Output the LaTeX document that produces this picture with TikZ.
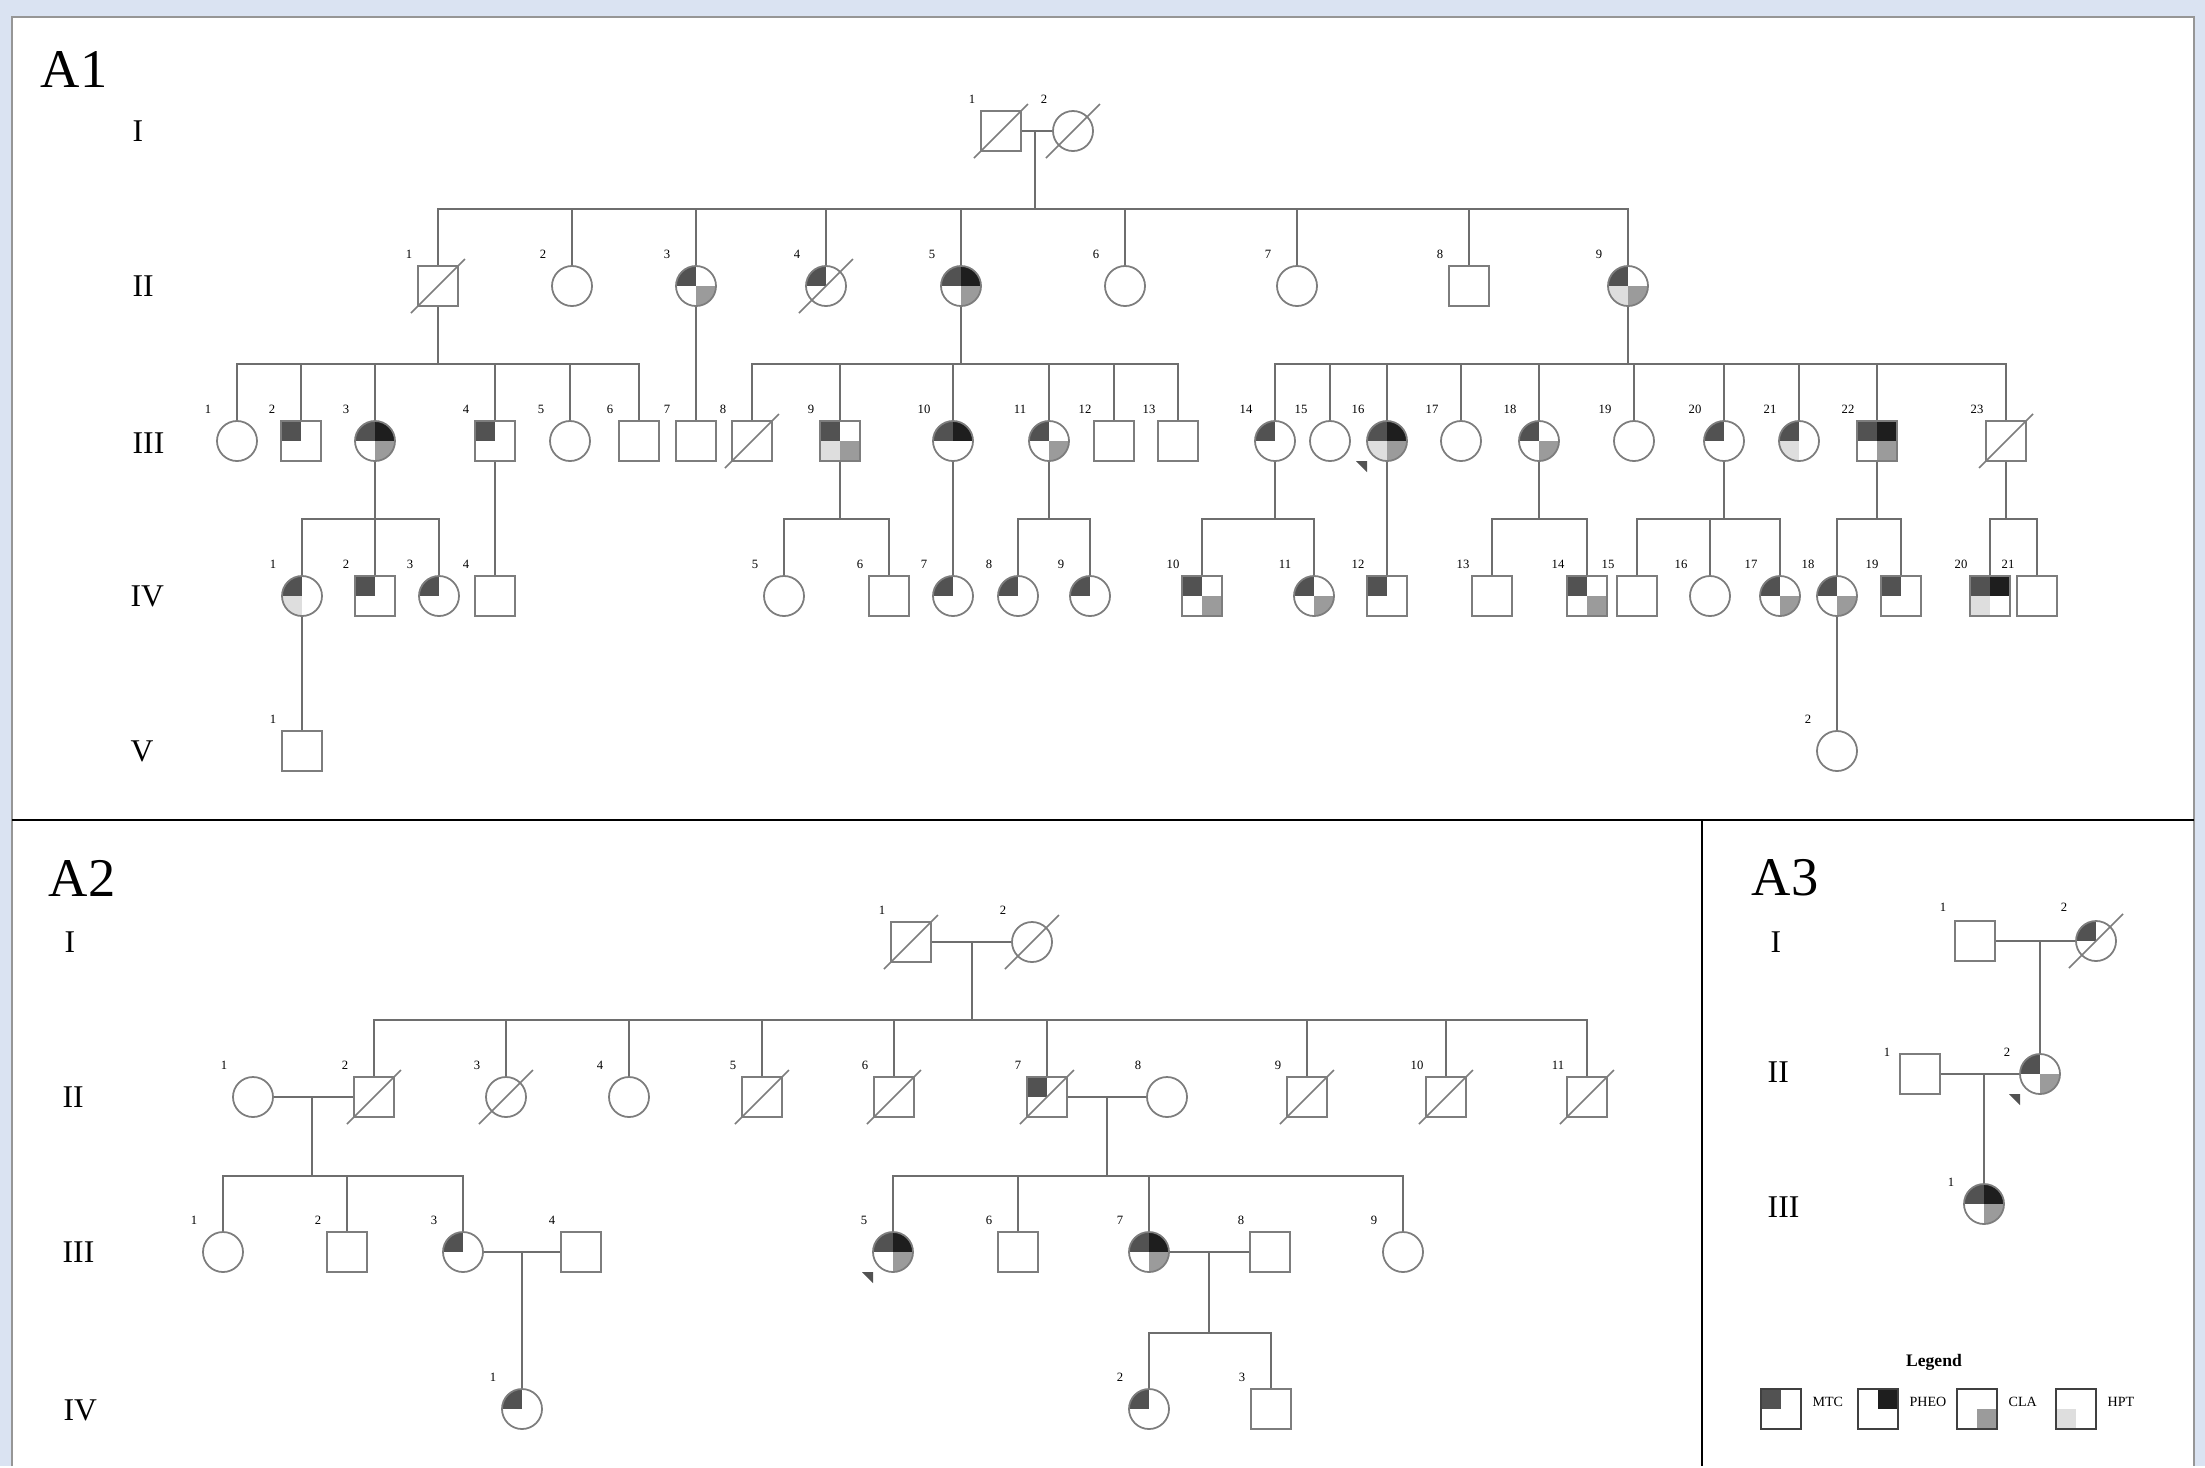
\documentclass[tikz,border=0pt]{standalone}
\usepackage{fontspec}
\setmainfont{Liberation Serif}
\usetikzlibrary{positioning,calc}
\definecolor{pagebg}{RGB}{218,227,242}
\definecolor{framegray}{RGB}{150,150,150}
\definecolor{pededge}{RGB}{125,125,125}
\definecolor{pedline}{RGB}{110,110,110}
\definecolor{cmtc}{RGB}{82,82,82}
\definecolor{cpheo}{RGB}{30,30,30}
\definecolor{ccla}{RGB}{155,155,155}
\definecolor{chpt}{RGB}{222,222,222}

% quadrant fills: top left, top right, bottom right, bottom left
\newcommand{\qfill}[4]{%
  \fill[#1] (path picture bounding box.center) rectangle (path picture bounding box.north west);
  \fill[#2] (path picture bounding box.center) rectangle (path picture bounding box.north east);
  \fill[#3] (path picture bounding box.center) rectangle (path picture bounding box.south east);
  \fill[#4] (path picture bounding box.center) rectangle (path picture bounding box.south west);}
\newcommand{\person}[4]{%
  \node[#1] (#2) at (#3) {};
  \node[idx] (#2n) at ([shift={(\numdx,\numdy)}]#2.center) {#4};}
\newcommand{\sibship}[3]{%
  \draw[kin] (#1) -- (#1 |- 0,#2);
  \foreach \k in {#3} {\draw[kin] (\k.north) |- (#1 |- 0,#2);}}
\newcommand{\proband}[1]{\fill[cmtc] ([shift={(-20,20)}]#1.center) -- ++(-11,0) -- ++(11,11) -- cycle;}
\def\numdx{-29}\def\numdy{-32}

\tikzset{
  kin/.style={draw=pedline, line width=0.45pt},
  slash/.style={draw=pededge, line width=0.45pt},
  fem/.style={circle, draw=pededge, fill=white, line width=0.5pt, minimum size=0.4cm, inner sep=0pt},
  mal/.style={rectangle, draw=pededge, fill=white, line width=0.5pt, minimum size=0.4cm, inner sep=0pt},
  dec/.style={append after command={([shift={(-27,27)}]\tikzlastnode.center) edge[slash] ([shift={(27,-27)}]\tikzlastnode.center)}},
  aff/.style n args={4}{path picture={\qfill{#1}{#2}{#3}{#4}}},
  qm/.style={aff={cmtc}{white}{white}{white}},
  qp/.style={aff={white}{cpheo}{white}{white}},
  qc/.style={aff={white}{white}{ccla}{white}},
  qh/.style={aff={white}{white}{white}{chpt}},
  qmp/.style={aff={cmtc}{cpheo}{white}{white}},
  qmc/.style={aff={cmtc}{white}{ccla}{white}},
  qmh/.style={aff={cmtc}{white}{white}{chpt}},
  qmpc/.style={aff={cmtc}{cpheo}{ccla}{white}},
  qmhc/.style={aff={cmtc}{white}{ccla}{chpt}},
  qmph/.style={aff={cmtc}{cpheo}{white}{chpt}},
  qmphc/.style={aff={cmtc}{cpheo}{ccla}{chpt}},
  idx/.style={inner sep=0pt, font=\fontsize{3.6}{4}\selectfont},
  genlbl/.style={inner sep=0pt, anchor=west, font=\fontsize{9}{10}\selectfont},
  panellbl/.style={inner sep=0pt, anchor=west, font=\fontsize{15.5}{16}\selectfont},
  legbox/.style={rectangle, draw=black!75, fill=white, line width=0.5pt, minimum size=0.4cm, inner sep=0pt},
  legtxt/.style={inner sep=0pt, font=\fontsize{4}{5}\selectfont}
}

\begin{document}
\begin{tikzpicture}[x=0.01cm, y=-0.01cm]
  \fill[pagebg] (0,0) rectangle (2205,1466);
  \fill[white] (12,17) rectangle (2194,1466);
  \draw[framegray, line width=0.5pt] (12,1466) -- (12,17) -- (2194,17) -- (2194,1466);
  \draw[black, line width=0.6pt] (12,820) -- (2194,820);
  \draw[black, line width=0.6pt] (1702,820) -- (1702,1466);

  % ---------- A1 ----------
  \node[panellbl] (pA1) at (40,69) {A1};
  \node[genlbl] (g1I) at (132,131) {I};
  \node[genlbl] (g1II) at (132,286) {II};
  \node[genlbl] (g1III) at (132,443) {III};
  \node[genlbl] (g1IV) at (130,596) {IV};
  \node[genlbl] (g1V) at (130,751) {V};

  \person{mal, dec}{aI1}{1001,131}{1}
  \person{fem, dec}{aI2}{1073,131}{2}
  \draw[kin] (aI1) -- (aI2);
  \coordinate (aIm) at (1035,131);

  \person{mal, dec}{aII1}{438,286}{1}
  \person{fem}{aII2}{572,286}{2}
  \person{fem, qmc}{aII3}{696,286}{3}
  \person{fem, qm, dec}{aII4}{826,286}{4}
  \person{fem, qmpc}{aII5}{961,286}{5}
  \person{fem}{aII6}{1125,286}{6}
  \person{fem}{aII7}{1297,286}{7}
  \person{mal}{aII8}{1469,286}{8}
  \person{fem, qmhc}{aII9}{1628,286}{9}
  \sibship{aIm}{209}{aII1,aII2,aII3,aII4,aII5,aII6,aII7,aII8,aII9}

  \person{fem}{aIII1}{237,441}{1}
  \person{mal, qm}{aIII2}{301,441}{2}
  \person{fem, qmpc}{aIII3}{375,441}{3}
  \person{mal, qm}{aIII4}{495,441}{4}
  \person{fem}{aIII5}{570,441}{5}
  \person{mal}{aIII6}{639,441}{6}
  \person{mal}{aIII7}{696,441}{7}
  \person{mal, dec}{aIII8}{752,441}{8}
  \person{mal, qmhc}{aIII9}{840,441}{9}
  \person{fem, qmp}{aIII10}{953,441}{10}
  \person{fem, qmc}{aIII11}{1049,441}{11}
  \person{mal}{aIII12}{1114,441}{12}
  \person{mal}{aIII13}{1178,441}{13}
  \person{fem, qm}{aIII14}{1275,441}{14}
  \person{fem}{aIII15}{1330,441}{15}
  \person{fem, qmphc}{aIII16}{1387,441}{16}
  \person{fem}{aIII17}{1461,441}{17}
  \person{fem, qmc}{aIII18}{1539,441}{18}
  \person{fem}{aIII19}{1634,441}{19}
  \person{fem, qm}{aIII20}{1724,441}{20}
  \person{fem, qmh}{aIII21}{1799,441}{21}
  \person{mal, qmpc}{aIII22}{1877,441}{22}
  \person{mal, dec}{aIII23}{2006,441}{23}
  \proband{aIII16}
  \sibship{aII1.south}{364}{aIII1,aIII2,aIII3,aIII4,aIII5,aIII6}
  \draw[kin] (aII3) -- (aIII7);
  \sibship{aII5.south}{364}{aIII8,aIII9,aIII10,aIII11,aIII12,aIII13}
  \sibship{aII9.south}{364}{aIII14,aIII15,aIII16,aIII17,aIII18,aIII19,aIII20,aIII21,aIII22,aIII23}

  \person{fem, qmh}{aIV1}{302,596}{1}
  \person{mal, qm}{aIV2}{375,596}{2}
  \person{fem, qm}{aIV3}{439,596}{3}
  \person{mal}{aIV4}{495,596}{4}
  \person{fem}{aIV5}{784,596}{5}
  \person{mal}{aIV6}{889,596}{6}
  \person{fem, qm}{aIV7}{953,596}{7}
  \person{fem, qm}{aIV8}{1018,596}{8}
  \person{fem, qm}{aIV9}{1090,596}{9}
  \person{mal, qmc}{aIV10}{1202,596}{10}
  \person{fem, qmc}{aIV11}{1314,596}{11}
  \person{mal, qm}{aIV12}{1387,596}{12}
  \person{mal}{aIV13}{1492,596}{13}
  \person{mal, qmc}{aIV14}{1587,596}{14}
  \person{mal}{aIV15}{1637,596}{15}
  \person{fem}{aIV16}{1710,596}{16}
  \person{fem, qmc}{aIV17}{1780,596}{17}
  \person{fem, qmc}{aIV18}{1837,596}{18}
  \person{mal, qm}{aIV19}{1901,596}{19}
  \person{mal, qmph}{aIV20}{1990,596}{20}
  \person{mal}{aIV21}{2037,596}{21}
  \sibship{aIII3.south}{519}{aIV1,aIV2,aIV3}
  \draw[kin] (aIII4) -- (aIV4);
  \sibship{aIII9.south}{519}{aIV5,aIV6}
  \draw[kin] (aIII10) -- (aIV7);
  \sibship{aIII11.south}{519}{aIV8,aIV9}
  \sibship{aIII14.south}{519}{aIV10,aIV11}
  \draw[kin] (aIII16) -- (aIV12);
  \sibship{aIII18.south}{519}{aIV13,aIV14}
  \sibship{aIII20.south}{519}{aIV15,aIV16,aIV17}
  \sibship{aIII22.south}{519}{aIV18,aIV19}
  \sibship{aIII23.south}{519}{aIV20,aIV21}

  \person{mal}{aV1}{302,751}{1}
  \person{fem}{aV2}{1837,751}{2}
  \draw[kin] (aIV1) -- (aV1);
  \draw[kin] (aIV18) -- (aV2);

  % ---------- A2 ----------
  \node[panellbl] (pA2) at (48,878) {A2};
  \node[genlbl] (g2I) at (64,942) {I};
  \node[genlbl] (g2II) at (62,1097) {II};
  \node[genlbl] (g2III) at (62,1252) {III};
  \node[genlbl] (g2IV) at (63,1410) {IV};

  \person{mal, dec}{bI1}{911,942}{1}
  \person{fem, dec}{bI2}{1032,942}{2}
  \draw[kin] (bI1) -- (bI2);
  \coordinate (bIm) at (972,942);

  \person{fem}{bII1}{253,1097}{1}
  \person{mal, dec}{bII2}{374,1097}{2}
  \person{fem, dec}{bII3}{506,1097}{3}
  \person{fem}{bII4}{629,1097}{4}
  \person{mal, dec}{bII5}{762,1097}{5}
  \person{mal, dec}{bII6}{894,1097}{6}
  \person{mal, qm, dec}{bII7}{1047,1097}{7}
  \person{fem}{bII8}{1167,1097}{8}
  \person{mal, dec}{bII9}{1307,1097}{9}
  \person{mal, dec}{bII10}{1446,1097}{10}
  \person{mal, dec}{bII11}{1587,1097}{11}
  \sibship{bIm}{1020}{bII2,bII3,bII4,bII5,bII6,bII7,bII9,bII10,bII11}
  \draw[kin] (bII1) -- (bII2);
  \coordinate (bIIm1) at (312,1097);
  \draw[kin] (bII7) -- (bII8);
  \coordinate (bIIm2) at (1107,1097);

  \person{fem}{bIII1}{223,1252}{1}
  \person{mal}{bIII2}{347,1252}{2}
  \person{fem, qm}{bIII3}{463,1252}{3}
  \person{mal}{bIII4}{581,1252}{4}
  \person{fem, qmpc}{bIII5}{893,1252}{5}
  \person{mal}{bIII6}{1018,1252}{6}
  \person{fem, qmpc}{bIII7}{1149,1252}{7}
  \person{mal}{bIII8}{1270,1252}{8}
  \person{fem}{bIII9}{1403,1252}{9}
  \proband{bIII5}
  \sibship{bIIm1}{1176}{bIII1,bIII2,bIII3}
  \sibship{bIIm2}{1176}{bIII5,bIII6,bIII7,bIII9}
  \draw[kin] (bIII3) -- (bIII4);
  \coordinate (bIIIm1) at (522,1252);
  \draw[kin] (bIII7) -- (bIII8);
  \coordinate (bIIIm2) at (1209,1252);

  \person{fem, qm}{bIV1}{522,1409}{1}
  \person{fem, qm}{bIV2}{1149,1409}{2}
  \person{mal}{bIV3}{1271,1409}{3}
  \draw[kin] (bIIIm1) -- (bIV1);
  \sibship{bIIIm2}{1333}{bIV2,bIV3}

  % ---------- A3 ----------
  \node[panellbl] (pA3) at (1751,878) {A3};
  \node[genlbl] (g3I) at (1770,942) {I};
  \node[genlbl] (g3II) at (1767,1072) {II};
  \node[genlbl] (g3III) at (1767,1207) {III};

  \def\numdx{-32}\def\numdy{-34}
  \person{mal}{cI1}{1975,941}{1}
  \person{fem, qm, dec}{cI2}{2096,941}{2}
  \def\numdx{-33}\def\numdy{-22}
  \person{mal}{cII1}{1920,1074}{1}
  \person{fem, qmc}{cII2}{2040,1074}{2}
  \person{fem, qmpc}{cIII1}{1984,1204}{1}
  \proband{cII2}
  \draw[kin] (cI1) -- (cI2);
  \draw[kin] (cII2 |- cI1) -- (cII2);
  \draw[kin] (cII1) -- (cII2);
  \draw[kin] (cIII1 |- cII1) -- (cIII1);

  % legend
  \node[inner sep=0pt, font=\bfseries\fontsize{5}{6}\selectfont] (leg) at (1934,1362) {Legend};
  \node[legbox, qm] (lg1) at (1781,1409) {};
  \node[legtxt, anchor=west, right=0.1cm of lg1, yshift=0.07cm] (lg1t) {MTC};
  \node[legbox, qp] (lg2) at (1878,1409) {};
  \node[legtxt, anchor=west, right=0.1cm of lg2, yshift=0.07cm] (lg2t) {PHEO};
  \node[legbox, qc] (lg3) at (1977,1409) {};
  \node[legtxt, anchor=west, right=0.1cm of lg3, yshift=0.07cm] (lg3t) {CLA};
  \node[legbox, qh] (lg4) at (2076,1409) {};
  \node[legtxt, anchor=west, right=0.1cm of lg4, yshift=0.07cm] (lg4t) {HPT};
\end{tikzpicture}
\end{document}
